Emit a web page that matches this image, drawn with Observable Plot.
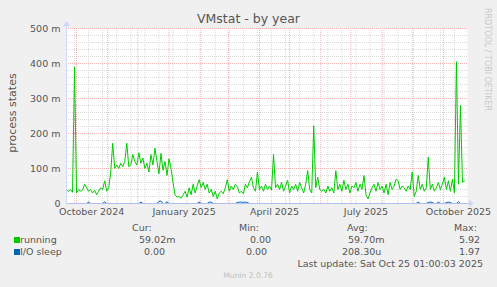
<!DOCTYPE html>
<html><head><meta charset="utf-8">
<script src="https://cdn.jsdelivr.net/npm/d3@7"></script>
<script src="https://cdn.jsdelivr.net/npm/@observablehq/plot@0.6"></script>
<style>
html,body{margin:0;padding:0;background:#f0f0f0;}
#chart{width:497px;height:287px;overflow:hidden;}
</style></head><body><div id="chart"></div>
<script>
const title = "VMstat - by year";
const yLabel = "process states";
const startDate = "2024-09-21";
const endDate = "2025-10-25";
const stepDays = 2;
// running (milli process states), one sample every 2 days
const running = [
38,35,40,32,390,30,40,35,38,55,
45,35,40,30,38,25,35,45,40,65,
35,45,90,172,100,110,100,115,105,120,
172,105,110,140,120,110,145,115,130,100,
115,90,140,110,158,120,85,143,95,120,
80,128,100,60,25,18,20,15,25,35,
18,45,25,55,30,50,68,45,60,40,
55,30,40,20,35,13,30,35,28,45,
68,35,50,40,55,48,30,35,28,55,
45,62,75,45,35,90,40,50,35,55,
40,50,38,140,45,55,40,60,35,50,
66,30,50,40,55,35,60,45,30,55,
94,40,30,222,45,75,40,35,40,30,
50,35,45,30,94,40,55,35,66,40,
55,30,50,45,60,35,55,40,80,25,
13,30,45,55,35,60,40,50,30,55,
25,60,40,50,70,65,40,50,
45,35,50,40,90,20,35,80,40,55,
35,45,132,40,55,35,45,60,40,55,
75,40,65,35,70,30,405,55,280,60,65
];
// I/O sleep (milli process states)
const ioSleep = [
0,0,0,0,0,0,0,0,0,0,
0,4,0,0,0,0,0,0,0,5,
0,0,0,0,0,0,0,0,0,0,
0,0,0,0,0,0,0,4,0,0,
0,0,0,0,0,0,6,7,0,0,
5,0,0,0,0,0,0,0,0,0,
0,0,0,0,0,0,4,0,0,0,
0,4,4,0,0,0,0,0,0,0,
0,0,0,0,0,3,4,4,3,4,
3,0,0,0,0,0,0,0,0,0,
0,0,0,0,0,0,0,0,0,0,
0,0,0,0,0,0,0,0,0,0,
0,0,0,0,0,0,0,0,0,0,
0,0,0,0,0,0,0,0,0,0,
0,0,0,0,0,0,0,0,0,0,
0,0,0,0,0,0,0,0,0,0,
0,0,0,0,0,0,0,0,
0,0,0,0,0,0,0,4,0,0,
0,0,3,4,3,0,0,4,0,0,
0,3,4,3,0,0,0,5,0,0,0
];
const yTicks = [0,100,200,300,400,500];
const yTickLabels = ["0","100 m","200 m","300 m","400 m","500 m"];
const xTickDates = ["2024-10-16","2025-01-16","2025-04-16","2025-07-16","2025-10-16"];
const xTickLabels = ["October 2024","January 2025","April 2025","July 2025","October 2025"];
const legendHeaders = ["Cur:","Min:","Avg:","Max:"];
const seriesNames = ["running","I/O sleep"];
const seriesColors = ["#00cc00","#0066b3"];
const runningStats = ["59.02m","0.00","59.70m","5.92"];
const ioStats = ["0.00","0.00","208.30u","1.97"];
const lastUpdate = "Last update: Sat Oct 25 01:00:03 2025";
const version = "Munin 2.0.76";
const watermark = "RRDTOOL / TOBI OETIKER";

const parse = d3.utcParse("%Y-%m-%d");
const t0 = parse(startDate);
const xDomain = [parse(startDate), parse(endDate)];
const runData = running.map((v,i)=>({date:d3.utcDay.offset(t0, stepDays*i), value:v}));
const ioData = ioSleep.map((v,i)=>({date:d3.utcDay.offset(t0, stepDays*i), value:v}));
const majorX = d3.utcMonth.range(xDomain[0], xDomain[1]);
const minorX = d3.utcDay.range(parse("2024-09-29"), xDomain[1], 14);
const majorY = yTicks.filter(d=>d>0);
const minorY = d3.range(20, 500, 20).filter(d=>d%100!==0);
const yLabMap = new Map(yTicks.map((d,i)=>[d,yTickLabels[i]]));
const xTicks = xTickDates.map(parse);
const xLabMap = new Map(xTicks.map((d,i)=>[+d,xTickLabels[i]]));

const FONT = "DejaVu Sans";
const TXT = "#555";

const chart = Plot.plot({
  width:497, height:287,
  marginLeft:66, marginRight:30, marginTop:28, marginBottom:84,
  style:{background:"#f0f0f0", fontFamily:FONT, fontSize:"9.5px", color:TXT, overflow:"visible"},
  x:{type:"utc", domain:xDomain, axis:null},
  y:{domain:[0,500], axis:null},
  marks:[
    Plot.frame({fill:"white", stroke:"none"}),
    Plot.ruleX(minorX, {stroke:"#dadada", strokeDasharray:"1,1"}),
    Plot.ruleY(minorY, {stroke:"#dadada", strokeDasharray:"1,1"}),
    Plot.ruleX(majorX, {stroke:"#f2b2b2", strokeDasharray:"1,1"}),
    Plot.ruleY(majorY, {stroke:"#f2b2b2", strokeDasharray:"1,1"}),
    Plot.line(ioData, {x:"date", y:"value", stroke:seriesColors[1], strokeWidth:1}),
    Plot.line(runData, {x:"date", y:"value", stroke:seriesColors[0], strokeWidth:1}),
    Plot.axisY(yTicks, {tickSize:0, tickPadding:6, tickFormat:d=>yLabMap.get(d), label:null}),
    Plot.axisX(xTicks, {tickSize:0, tickPadding:5, tickFormat:d=>xLabMap.get(+d), label:null})
  ]
});
document.getElementById("chart").appendChild(chart);

const svg = d3.select(chart);
const sx = chart.scale("x"), sy = chart.scale("y");
const x0 = Math.round(sx.apply(xDomain[0])), x1 = Math.round(sx.apply(xDomain[1]));
const y0 = Math.round(sy.apply(0)), yTop = Math.round(sy.apply(500));

// axes with arrows
svg.append("line").attr("x1",x0).attr("x2",x1+2).attr("y1",y0+0.5).attr("y2",y0+0.5)
  .attr("stroke","#b0bff0").attr("stroke-width",1);
svg.append("path").attr("d",`M${x1+2},${y0-3}L${x1+7},${y0+0.5}L${x1+2},${y0+4}Z`).attr("fill","#cfd6f8");
svg.append("line").attr("x1",x0+0.5).attr("x2",x0+0.5).attr("y1",y0+1).attr("y2",yTop-2)
  .attr("stroke","#cfd6f8").attr("stroke-width",1);
svg.append("path").attr("d",`M${x0-3},${yTop-2}L${x0+0.5},${yTop-7}L${x0+4},${yTop-2}Z`).attr("fill","#cfd6f8");

function txt(x,y,s,opts={}){
  const t = svg.append("text").attr("x",x).attr("y",y).text(s)
    .attr("font-family",FONT).attr("font-size",opts.size||"9.5px")
    .attr("fill",opts.fill||TXT).attr("text-anchor",opts.anchor||"start");
  if(opts.transform) t.attr("transform",opts.transform);
  return t;
}
// title
txt(248.5, 22.5, title, {size:"12.5px", anchor:"middle"});
// y label
txt(0, 0, yLabel, {size:"11px", anchor:"middle", transform:"translate(16,113) rotate(-90)"});
// watermark
txt(0, 0, watermark, {size:"8px", fill:"#cacaca", transform:"translate(485,8) rotate(90)"});
// legend
const colX = [132,239,347,454];
legendHeaders.forEach((h,i)=>txt(colX[i],231,h));
svg.append("rect").attr("x",14).attr("y",237).attr("width",6).attr("height",6).attr("fill",seriesColors[0]);
svg.append("rect").attr("x",14).attr("y",249).attr("width",6).attr("height",6).attr("fill",seriesColors[1]);
txt(20,243,seriesNames[0]);
txt(20,255,seriesNames[1]);
const runX = [139,250,348,459];
const ioX = [144,246,342,459];
runningStats.forEach((s,i)=>txt(runX[i],243,s));
ioStats.forEach((s,i)=>txt(ioX[i],255,s));
txt(483,267,lastUpdate,{anchor:"end"});
txt(248,278,version,{size:"7.6px",fill:"#c0c0c0",anchor:"middle"});
</script>
</body></html>
